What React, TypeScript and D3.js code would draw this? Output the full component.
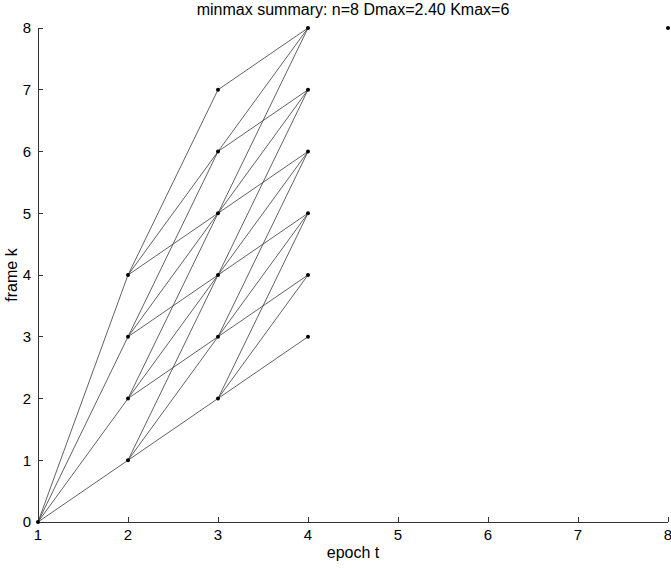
import React from 'react';
import { scaleLinear, range } from 'd3';

const width = 671;
const height = 568;
const margin = { top: 28, right: 3, bottom: 46, left: 38 };

const epochs = range(1, 9);
const frames = range(0, 9);

// nodes visited by the search: [epoch, frame]
const nodes = [
  [1, 0],
  [2, 1], [2, 2], [2, 3], [2, 4],
  [3, 2], [3, 3], [3, 4], [3, 5], [3, 6], [3, 7],
  [4, 3], [4, 4], [4, 5], [4, 6], [4, 7], [4, 8],
  [8, 8],
];

// transitions: [epoch from, frame from, epoch to, frame to]
const edges = [
  [1, 0, 2, 1], [1, 0, 2, 2], [1, 0, 2, 3], [1, 0, 2, 4],
  [2, 1, 3, 2], [2, 1, 3, 3], [2, 1, 3, 4],
  [2, 2, 3, 3], [2, 2, 3, 4], [2, 2, 3, 5],
  [2, 3, 3, 4], [2, 3, 3, 5], [2, 3, 3, 6],
  [2, 4, 3, 5], [2, 4, 3, 6], [2, 4, 3, 7],
  [3, 2, 4, 3], [3, 2, 4, 4], [3, 2, 4, 5],
  [3, 3, 4, 4], [3, 3, 4, 5], [3, 3, 4, 6],
  [3, 4, 4, 5], [3, 4, 4, 6], [3, 4, 4, 7],
  [3, 5, 4, 6], [3, 5, 4, 7], [3, 5, 4, 8],
  [3, 6, 4, 7], [3, 6, 4, 8],
  [3, 7, 4, 8],
];

const title = 'minmax summary: n=8 Dmax=2.40 Kmax=6';
const font = 'Liberation Sans, Arial, Helvetica, sans-serif';

function App() {
  const x = scaleLinear().domain([1, 8]).range([margin.left, width - margin.right]);
  const y = scaleLinear().domain([0, 8]).range([height - margin.bottom, margin.top]);
  const x0 = x(1);
  const y0 = y(0);
  const axisColor = '#333';

  return (
    <svg width={width} height={height} style={{ position: 'absolute', left: 0, top: 0 }} fontFamily={font}>
      <rect width={width} height={height} fill='white' />
      {edges.map(([t1, k1, t2, k2], i) => (
        <line key={i} x1={x(t1)} y1={y(k1)} x2={x(t2)} y2={y(k2)} stroke='#3a3a3a' strokeWidth={0.8} />
      ))}
      <g shapeRendering='crispEdges' stroke={axisColor}>
        <line x1={x0} x2={x(8)} y1={y0} y2={y0} />
        <line x1={x0} x2={x0} y1={y0} y2={y(8)} />
        {epochs.map(t => (
          <line key={t} x1={x(t)} x2={x(t)} y1={y0} y2={y0 - 5} />
        ))}
        {frames.map(k => (
          <line key={k} x1={x0} x2={x0 + 5} y1={y(k)} y2={y(k)} />
        ))}
      </g>
      {nodes.map(([t, k], i) => (
        <circle key={i} cx={x(t)} cy={y(k)} r={2} fill='black' />
      ))}
      {epochs.map(t => (
        <text key={t} x={x(t)} y={y0 + 18} textAnchor='middle' fontSize={15}>{t}</text>
      ))}
      {frames.map(k => (
        <text key={k} x={x0 - 7} y={y(k)} dy='.35em' textAnchor='end' fontSize={15}>{k}</text>
      ))}
      <text x={(x0 + x(8)) / 2} y={y0 + 36} textAnchor='middle' fontSize={16}>epoch t</text>
      <text transform={`translate(17, ${(y0 + y(8)) / 2}) rotate(-90)`} textAnchor='middle' fontSize={16}>frame k</text>
      <text x={(x0 + x(8)) / 2} y={15} textAnchor='middle' fontSize={16}>{title}</text>
    </svg>
  );
}

export default App;
